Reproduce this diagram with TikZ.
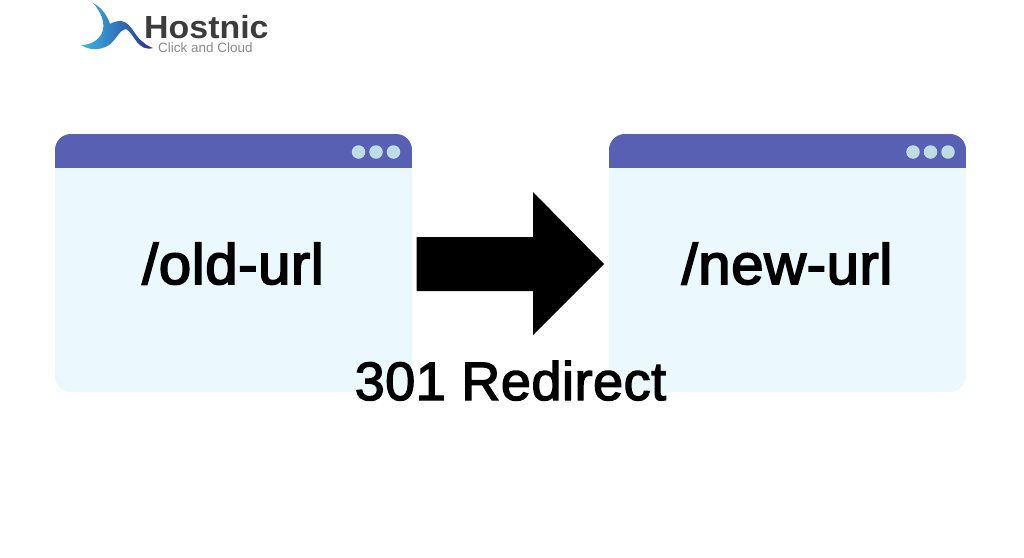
\documentclass[tikz,border=0pt]{standalone}
\usepackage{fontspec}
\setmainfont{Liberation Sans}
\newfontfamily\heavyurl[FakeBold=3,FakeStretch=1.02,LetterSpace=1]{Liberation Sans}
\newfontfamily\heavyred[FakeBold=2.5,LetterSpace=1]{Liberation Sans}
\newfontfamily\brandfont[FakeStretch=1.06]{Liberation Sans}
\definecolor{bar}{HTML}{5860B4}
\definecolor{pane}{HTML}{EBF8FE}
\definecolor{dotc}{HTML}{BFDDE0}
\definecolor{logoa}{HTML}{3CB9E8}
\definecolor{logom}{HTML}{34A0DC}
\definecolor{logob}{HTML}{27308F}
\definecolor{logotxt}{HTML}{3C3C3C}
\definecolor{logosub}{HTML}{8A8A8A}
\tikzset{x=1pt,y=-1pt,
 urltext/.style={inner sep=0,anchor=base,font=\heavyurl\fontsize{57}{57}\selectfont,text=black},
 redtext/.style={inner sep=0,anchor=base,font=\heavyred\fontsize{54}{54}\selectfont,text=black},
 dotn/.style={circle,fill=dotc,minimum size=13.5pt,inner sep=0}}
\newcommand{\browser}[1]{%
 \fill[pane,rounded corners=16pt] (#1,134) rectangle ++(357,258);
 \begin{scope}
 \clip[rounded corners=16pt] (#1,134) rectangle ++(357,258);
 \fill[bar] (#1,134) rectangle ++(357,34);
 \end{scope}
}
\begin{document}
\begin{tikzpicture}
\useasboundingbox (0,0) rectangle (1024,557);
\fill[white] (0,0) rectangle (1024,557);
\browser{55}
\browser{609}
\node[dotn] (a1) at (358.5,152) {};
\node[dotn] (a2) at (376,152) {};
\node[dotn] (a3) at (393.5,152) {};
\node[dotn] (b1) at (913,152) {};
\node[dotn] (b2) at (930.5,152) {};
\node[dotn] (b3) at (948,152) {};
\fill[black] (416.5,237) -- (533,237) -- (533,192) -- (604,264) -- (533,335) -- (533,291) -- (416.5,291) -- cycle;
\node[urltext] (old) at (233,284) {/old-url};
\node[urltext] (new) at (787,284) {/new-url};
\node[redtext] (redir) at (510.5,400) {301 Redirect};
% logo
\shade[left color=logoa,middle color=logom,right color=logob]
 (93,3) .. controls (101,7) and (107,15) .. (110,24)
 .. controls (113,22) and (117,21) .. (121,21)
 .. controls (131,22) and (135,37) .. (143,42)
 .. controls (146,45) and (150,47) .. (153,48)
 .. controls (146,50) and (141,47) .. (137,42)
 .. controls (133,37) and (130,31) .. (126,29)
 .. controls (122,30) and (120,32) .. (118,35)
 .. controls (115,39) and (112,43) .. (109,45)
 .. controls (100,51) and (88,50) .. (81,45)
 .. controls (90,45) and (98,41) .. (102,33)
 .. controls (106,23) and (101,12) .. (93,3) -- cycle;
\node[inner sep=0,anchor=base west,font=\brandfont\bfseries\fontsize{32}{32}\selectfont,text=logotxt] (brand) at (144,38.5) {Hostnic};
\node[inner sep=0,anchor=base west,font=\fontsize{13.5}{13.5}\selectfont,text=logosub] (tag) at (158,52) {Click and Cloud};
\end{tikzpicture}
\end{document}
